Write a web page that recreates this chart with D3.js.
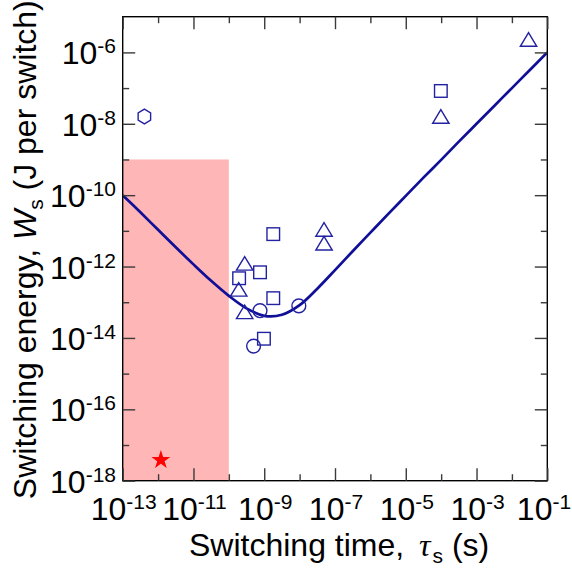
<!DOCTYPE html>
<html>
<head>
<meta charset="utf-8">
<script src="https://cdn.jsdelivr.net/npm/d3@7"></script>
<style>
  body { margin: 0; background: #fff; }
  svg { display: block; font-family: "Liberation Sans", Arial, sans-serif; }
</style>
</head>
<body>
<svg id="chart" width="572" height="569"></svg>
<script>
// ---- axis ticks ----
const tauMajorTicks = [1e-13, 1e-11, 1e-9, 1e-7, 1e-5, 1e-3, 1e-1];
const tauMinorTicks = [1e-12, 1e-10, 1e-8, 1e-6, 1e-4, 1e-2];
const tauTickExponents = ["-13", "-11", "-9", "-7", "-5", "-3", "-1"];
const wMajorTicks = [1e-18, 1e-16, 1e-14, 1e-12, 1e-10, 1e-8, 1e-6];
const wMinorTicks = [1e-17, 1e-15, 1e-13, 1e-11, 1e-9, 1e-7];
const wTickExponents = ["-18", "-16", "-14", "-12", "-10", "-8", "-6"];

// ---- shaded target region (tau range, W range) ----
const regionTau = [1e-13, 1e-10];
const regionW = [1e-18, 1e-9];

// ---- lower-bound curve W(tau), sampled every half decade ----
const curveTau = [1e-13, 3.16e-13, 1e-12, 3.16e-12, 1e-11, 3.16e-11, 1e-10, 3.16e-10, 1e-9,
                  3.16e-9, 1e-8, 3.16e-8, 1e-7, 3.16e-7, 1e-6, 3.16e-6, 1e-5, 3.16e-5,
                  1e-4, 3.16e-4, 1e-3, 3.16e-3, 1e-2, 3.16e-2, 1e-1];
const curveW   = [1.0e-10, 3.31e-11, 1.07e-11, 3.47e-12, 1.15e-12, 3.98e-13, 1.51e-13, 6.76e-14, 4.17e-14,
                  4.47e-14, 8.32e-14, 2.40e-13, 7.94e-13, 2.69e-12, 8.91e-12, 2.95e-11, 9.55e-11, 3.09e-10,
                  9.77e-10, 3.16e-9, 1.0e-8, 3.16e-8, 1.0e-7, 3.16e-7, 1.0e-6];

// ---- reported devices ----
const squareTau = [1.8e-9, 7.6e-10, 1.95e-10, 1.8e-9, 9.8e-10, 9.8e-5];
const squareW   = [8.1e-12, 6.9e-13, 4.7e-13, 1.3e-13, 9.5e-15, 8.3e-8];
const triangleTau = [4.9e-8, 4.9e-8, 2.8e-10, 1.9e-10, 2.8e-10, 9.8e-5, 2.95e-2];
const triangleW   = [1.1e-11, 4.5e-12, 1.23e-12, 2.3e-13, 5.4e-14, 1.6e-8, 2.3e-6];
const circleTau = [7.6e-10, 9.5e-9, 5.0e-10];
const circleW   = [5.8e-14, 7.9e-14, 5.9e-15];
const hexagonTau = [4.1e-13];
const hexagonW   = [1.6e-8];
const starTau = [1.2e-12];
const starW   = [3.8e-18];

// ---- layout ----
const svg = d3.select("#chart");
const plotLeft = 122.7, plotRight = 547.3, plotTop = 16.7, plotBottom = 480.7;
const x = d3.scaleLog().domain([1e-13, 1e-1]).range([plotLeft, plotRight]);
const y = d3.scaleLog().domain([1e-18, 1e-5]).range([plotBottom, plotTop]);

const markColor = "#2222a2";
const lineColor = "#0f0f98";
const tickColor = "#3a3a3a";
const labelSize = 32, supSize = 21;

// shaded region
svg.append("rect")
  .attr("x", x(regionTau[0])).attr("y", y(regionW[1]))
  .attr("width", x(regionTau[1]) - x(regionTau[0]))
  .attr("height", y(regionW[0]) - y(regionW[1]))
  .attr("fill", "#ffb6b6");

// curve
const zip = (a, b) => a.map((v, i) => [v, b[i]]);
svg.append("path")
  .datum(zip(curveTau, curveW))
  .attr("fill", "none")
  .attr("stroke", lineColor)
  .attr("stroke-width", 2.7)
  .attr("stroke-linejoin", "round")
  .attr("d", d3.line().x(d => x(d[0])).y(d => y(d[1])).curve(d3.curveCatmullRom.alpha(0.5)));

// markers
const marks = svg.append("g").attr("fill", "none").attr("stroke", markColor).attr("stroke-width", 1.4);
marks.selectAll(".sq").data(zip(squareTau, squareW)).join("rect")
  .attr("x", d => x(d[0]) - 6.3).attr("y", d => y(d[1]) - 6.3)
  .attr("width", 12.6).attr("height", 12.6);
marks.selectAll(".tri").data(zip(triangleTau, triangleW)).join("path")
  .attr("transform", d => `translate(${x(d[0])},${y(d[1])})`)
  .attr("d", "M0,-6.8L8.2,6.8L-8.2,6.8Z");
marks.selectAll(".circ").data(zip(circleTau, circleW)).join("circle")
  .attr("cx", d => x(d[0])).attr("cy", d => y(d[1])).attr("r", 6.9);
const hex = d3.range(6).map(i => {
  const a = Math.PI / 3 * i - Math.PI / 2;
  return [7.2 * Math.cos(a), 7.4 * Math.sin(a)];
});
marks.selectAll(".hex").data(zip(hexagonTau, hexagonW)).join("path")
  .attr("transform", d => `translate(${x(d[0])},${y(d[1])})`)
  .attr("d", "M" + hex.map(p => p.join(",")).join("L") + "Z");
svg.selectAll(".star").data(zip(starTau, starW)).join("path")
  .attr("transform", d => `translate(${x(d[0])},${y(d[1])})`)
  .attr("fill", "#ff0000")
  .attr("d", d3.symbol(d3.symbolStar, 112)());

// frame
svg.append("rect")
  .attr("x", plotLeft).attr("y", plotTop).attr("width", plotRight - plotLeft).attr("height", plotBottom - plotTop)
  .attr("fill", "none").attr("stroke", "#000").attr("stroke-width", 1.4);

// inward ticks on all four sides
function ticks(axisFn, scale, values, size, transform) {
  const g = svg.append("g").attr("transform", transform)
    .call(axisFn(scale).tickValues(values).tickSize(size).tickFormat(""));
  g.select(".domain").remove();
  g.selectAll(".tick line").attr("stroke", tickColor).attr("stroke-width", 1.4);
}
ticks(d3.axisBottom, x, tauMajorTicks, -12.5, `translate(0,${plotBottom})`);
ticks(d3.axisBottom, x, tauMinorTicks, -6.5, `translate(0,${plotBottom})`);
ticks(d3.axisTop, x, tauMajorTicks, -12.5, `translate(0,${plotTop})`);
ticks(d3.axisTop, x, tauMinorTicks, -6.5, `translate(0,${plotTop})`);
ticks(d3.axisLeft, y, wMajorTicks, -12.5, `translate(${plotLeft},0)`);
ticks(d3.axisLeft, y, wMinorTicks, -6.5, `translate(${plotLeft},0)`);
ticks(d3.axisRight, y, wMajorTicks, -12.5, `translate(${plotRight},0)`);
ticks(d3.axisRight, y, wMinorTicks, -6.5, `translate(${plotRight},0)`);

// tick labels "10^n"
function powerLabel(sel, exp) {
  sel.append("tspan").text("10");
  sel.append("tspan").attr("font-size", supSize).attr("dy", -11).text(exp);
}
tauMajorTicks.forEach((v, i) => {
  const t = svg.append("text")
    .attr("x", Math.min(x(v) + 1, 571 - 27))
    .attr("y", 520)
    .attr("text-anchor", "middle").attr("font-size", labelSize).attr("fill", "#000");
  powerLabel(t, tauTickExponents[i]);
});
wMajorTicks.forEach((v, i) => {
  const t = svg.append("text").attr("x", 116).attr("y", y(v) + 12)
    .attr("text-anchor", "end").attr("font-size", labelSize).attr("fill", "#000");
  powerLabel(t, wTickExponents[i]);
});

// axis titles
const xt = svg.append("text").attr("x", 189).attr("y", 556)
  .attr("text-anchor", "start").attr("font-size", labelSize);
xt.append("tspan").text("Switching time, ");
xt.append("tspan").attr("dx", 6)
  .attr("font-family", "'Liberation Serif','Times New Roman',serif").attr("font-style", "italic").text("τ");
xt.append("tspan").attr("font-size", supSize).attr("dx", 2).attr("dy", 7).text("s");
xt.append("tspan").attr("dy", -7).text(" (s)");

const yt = svg.append("text")
  .attr("transform", `translate(36,${(plotTop + plotBottom) / 2 + 1}) rotate(-90)`)
  .attr("text-anchor", "middle").attr("font-size", labelSize);
yt.append("tspan").text("Switching energy, ");
yt.append("tspan").attr("font-style", "italic").text("W");
yt.append("tspan").attr("font-size", supSize).attr("dy", 7).text("s");
yt.append("tspan").attr("dy", -7).text(" (J per switch)");
</script>
</body>
</html>
